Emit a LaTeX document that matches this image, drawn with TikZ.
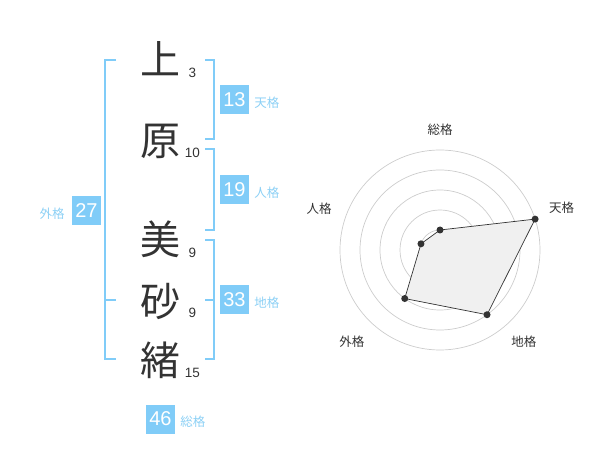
\documentclass[tikz,border=0pt]{standalone}
\usepackage{fontspec}
\setmainfont{Liberation Sans}
\newfontfamily\cjk{Noto Sans CJK JP}
\usetikzlibrary{positioning}
\definecolor{kakublue}{RGB}{128,204,248}
\definecolor{labelblue}{RGB}{140,208,245}
\definecolor{inkgray}{RGB}{51,51,51}
\begin{document}
\begin{tikzpicture}
      [x=1pt,y=-1pt,
        kanji/.style={font=\cjk\fontsize{40}{40}\selectfont, text=inkgray, inner sep=0pt},
        strokes/.style={font=\fontsize{13.5}{13.5}\selectfont, text=inkgray, inner sep=0pt},
        kakubox/.style={fill=kakublue, text=white, minimum size=29pt, inner sep=0pt,
          font=\fontsize{20}{20}\selectfont},
        kakuname/.style={font=\cjk\fontsize{12.5}{12.5}\selectfont, text=labelblue, inner sep=0pt},
        bracket/.style={draw=kakublue, line width=2pt},
        ring/.style={draw=black!20, line width=0.7pt},
        axisname/.style={font=\cjk\fontsize{12.5}{12.5}\selectfont, text=inkgray, inner sep=0pt},
        dot/.style={circle, fill=inkgray, inner sep=0pt, minimum size=7pt}]
  \useasboundingbox (0,0) rectangle (600,470);
  % name
  \node[kanji] (k1) at (160,59) {上};
  \node[kanji] (k2) at (160,141) {原};
  \node[kanji] (k3) at (160,239) {美};
  \node[kanji] (k4) at (160,302) {砂};
  \node[kanji] (k5) at (160,360) {緒};
  \node[strokes] (s1) at (192.5,73) {3};
  \node[strokes] (s2) at (192.5,153) {10};
  \node[strokes] (s3) at (192.5,253) {9};
  \node[strokes] (s4) at (192.5,313) {9};
  \node[strokes] (s5) at (192.5,373) {15};
  % brackets
  \draw[bracket] (116,60) -- (105,60) -- (105,359) -- (116,359);
  \draw[bracket] (105,300) -- (116,300);
  \draw[bracket] (205,60) -- (214,60) -- (214,139) -- (205,139);
  \draw[bracket] (205,149) -- (214,149) -- (214,230) -- (205,230);
  \draw[bracket] (205,240) -- (214,240) -- (214,359) -- (205,359);
  \draw[bracket] (205,300) -- (214,300);
  % boxes
  \node[kakubox] (ten) at (234.5,100) {13};
  \node[kakuname, right=5pt of ten, yshift=-3pt] (ten-l) {天格};
  \node[kakubox] (jin) at (234.5,190) {19};
  \node[kakuname, right=5pt of jin, yshift=-3pt] (jin-l) {人格};
  \node[kakubox] (chi) at (234.5,300) {33};
  \node[kakuname, right=5pt of chi, yshift=-3pt] (chi-l) {地格};
  \node[kakubox] (gai) at (86.5,210.5) {27};
  \node[kakuname, left=7pt of gai, yshift=-3pt] (gai-l) {外格};
  \node[kakubox] (so) at (160.5,419) {46};
  \node[kakuname, right=5pt of so, yshift=-3pt] (so-l) {総格};
  % radar
  \begin{scope}[shift={(440,250)}, x=1pt, y=1pt]
    \foreach \r in {20,40,60,80,100}
      \draw[ring] (0,0) circle (\r pt);
    \fill[black!22] (0,0) circle (3.5pt);
    \coordinate (p-so) at (90:20pt);
    \coordinate (p-ten) at (18:100pt);
    \coordinate (p-chi) at (-54:80pt);
    \coordinate (p-gai) at (-126:60pt);
    \coordinate (p-jin) at (162:20pt);
    \draw[fill=black!6, draw=inkgray, line width=0.7pt]
      (p-so) -- (p-ten) -- (p-chi) -- (p-gai) -- (p-jin) -- cycle;
    \foreach \p in {so,ten,chi,gai,jin}
      \node[dot] at (p-\p) {};
    \node[axisname] (a-so) at (90:120pt) {総格};
    \node[axisname] (a-ten) at (19:128.7pt) {天格};
    \node[axisname] (a-chi) at (-47.5:124pt) {地格};
    \node[axisname] (a-gai) at (-134:127pt) {外格};
    \node[axisname] (a-jin) at (161:127.8pt) {人格};
  \end{scope}
\end{tikzpicture}
\end{document}
